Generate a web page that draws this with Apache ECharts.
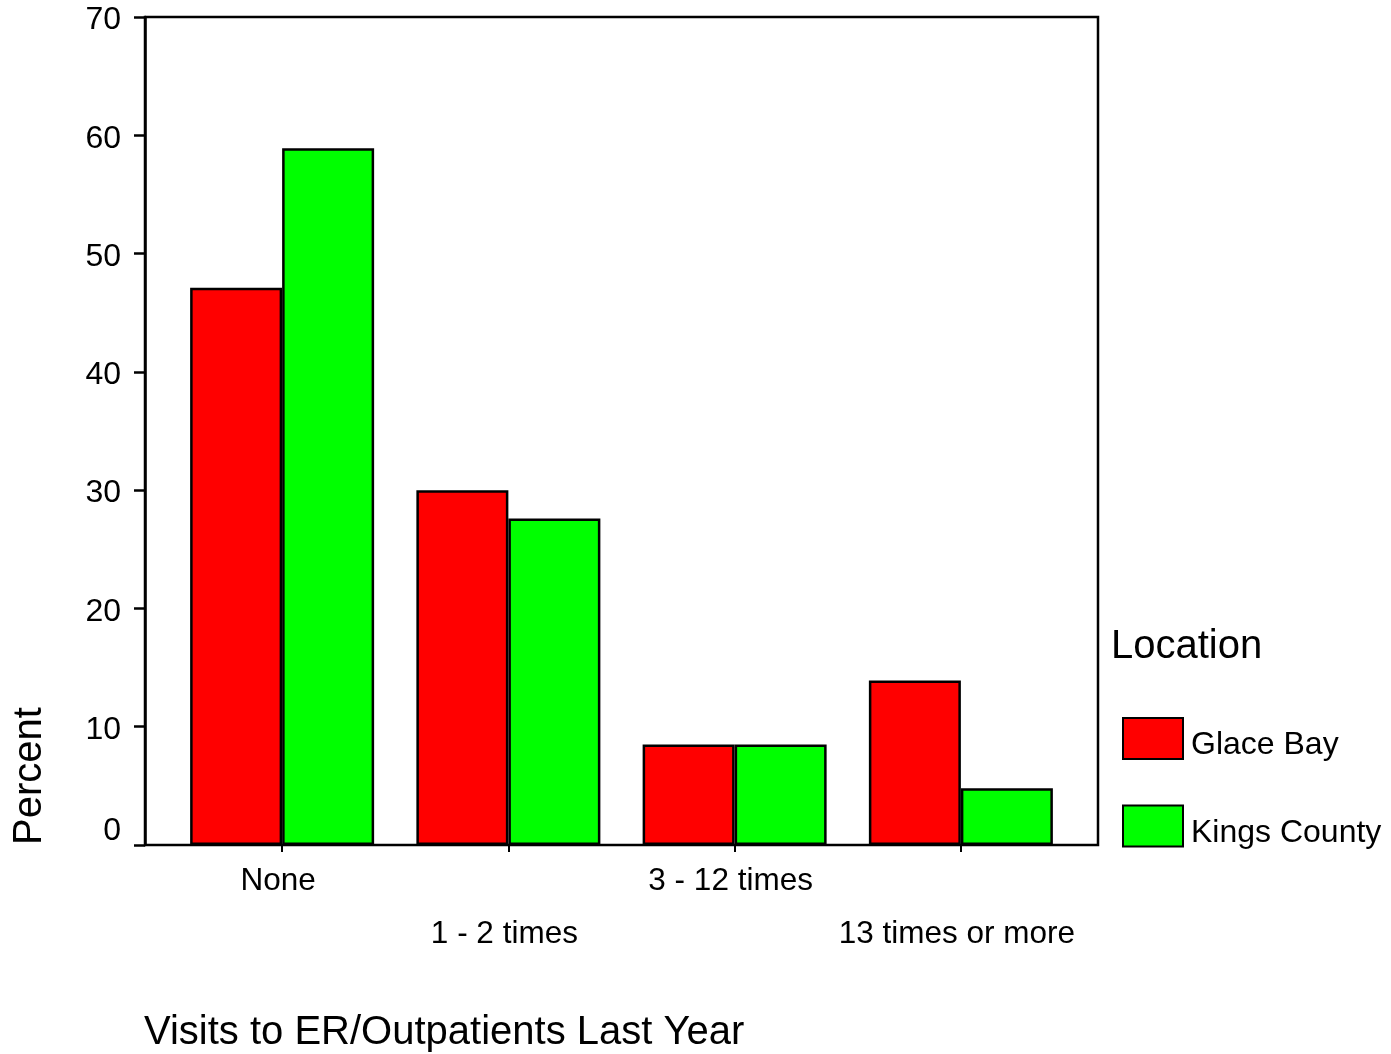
<!DOCTYPE html>
<html>
<head>
<meta charset="utf-8">
<script src="https://cdn.jsdelivr.net/npm/echarts@6/dist/echarts.min.js"></script>
<style>
html,body{margin:0;padding:0;background:#fff;}
#chart{width:1391px;height:1054px;}
</style>
</head>
<body>
<div id="chart"></div>
<script>
var categories = ['None', '1 - 2 times', '3 - 12 times', '13 times or more'];
var glaceBay = [47.1, 30.0, 8.5, 13.9];
var kingsCounty = [58.9, 27.6, 8.5, 4.8];
var seriesNames = ['Glace Bay', 'Kings County'];
var yTicks = { min: 0, max: 70, interval: 10 };

var FONT = '"Liberation Sans", Arial, sans-serif';
var chart = echarts.init(document.getElementById('chart'));
chart.setOption({
  backgroundColor: '#ffffff',
  animation: false,
  textStyle: { fontFamily: FONT, color: '#000' },
  title: [{
    text: 'Location', left: 1106, top: 622,
    textStyle: { fontFamily: FONT, fontSize: 40, fontWeight: 'normal', color: '#000' }
  }, {
    text: 'Visits to ER/Outpatients Last Year', left: 139, top: 1008,
    textStyle: { fontFamily: FONT, fontSize: 40, fontWeight: 'normal', color: '#000' }
  }],
  graphic: [{
    type: 'text', x: 10, y: 845, rotation: Math.PI / 2,
    style: { text: 'Percent', font: '40px "Liberation Sans", Arial, sans-serif', fill: '#000', textAlign: 'left', textVerticalAlign: 'top' }
  }],
  legend: {
    orient: 'vertical', left: 1122, top: 717, padding: 0,
    itemWidth: 60, itemHeight: 41, itemGap: 43,
    icon: 'rect',
    data: seriesNames,
    formatter: function (name) { return '{t|' + name + '}'; },
    textStyle: {
      fontFamily: FONT, fontSize: 32, color: '#000',
      rich: { t: { fontFamily: FONT, fontSize: 32, color: '#000', padding: [14, 0, 0, 3] } }
    }
  },
  grid: [
    { left: 169, top: 17, width: 905, height: 828, show: false },
    { left: 145, top: 17, width: 953, height: 828, show: true, borderColor: '#000', borderWidth: 2.5, backgroundColor: 'transparent' }
  ],
  xAxis: [{
    gridIndex: 0, type: 'category', data: categories,
    axisLine: { show: false },
    axisTick: { show: true, alignWithLabel: true, length: 7, lineStyle: { color: '#000', width: 2 } },
    axisLabel: {
      interval: 0, margin: 20, color: '#000', fontFamily: FONT, fontSize: 31.5,
      formatter: function (v, i) { return i % 2 ? '{b|' + v + '}' : '{a|' + v + '}'; },
      rich: {
        a: { fontFamily: FONT, fontSize: 31.5, color: '#000', padding: [0, 8, 0, 0] },
        b: { fontFamily: FONT, fontSize: 31.5, color: '#000', padding: [53, 8, 0, 0] }
      }
    }
  }, {
    gridIndex: 1, type: 'value', min: 0, max: 1, show: false
  }],
  yAxis: [{
    gridIndex: 0, type: 'value', min: yTicks.min, max: yTicks.max, interval: yTicks.interval, show: false
  }, {
    gridIndex: 1, type: 'value', min: yTicks.min, max: yTicks.max, interval: yTicks.interval,
    splitLine: { show: false },
    axisLine: { show: true, lineStyle: { color: '#000', width: 2.5 } },
    axisTick: { show: true, length: 11, lineStyle: { color: '#000', width: 2.5 } },
    axisLabel: {
      margin: 24, color: '#000', fontFamily: FONT, fontSize: 32,
      formatter: function (v) { return v === 0 ? '{z|0}' : '{n|' + v + '}'; },
      rich: {
        z: { fontFamily: FONT, fontSize: 32, color: '#000', padding: [0, 0, 28, 0] },
        n: { fontFamily: FONT, fontSize: 32, color: '#000', padding: [7, 0, 0, 0] }
      }
    }
  }],
  series: [{
    name: seriesNames[0], type: 'bar', xAxisIndex: 0, yAxisIndex: 0,
    data: glaceBay, barWidth: 92, barGap: '0%',
    itemStyle: { color: '#ff0000', borderColor: '#000', borderWidth: 2.5 }
  }, {
    name: seriesNames[1], type: 'bar', xAxisIndex: 0, yAxisIndex: 0,
    data: kingsCounty, barWidth: 92, barGap: '0%',
    itemStyle: { color: '#00ff00', borderColor: '#000', borderWidth: 2.5 }
  }]
});
</script>
</body>
</html>
